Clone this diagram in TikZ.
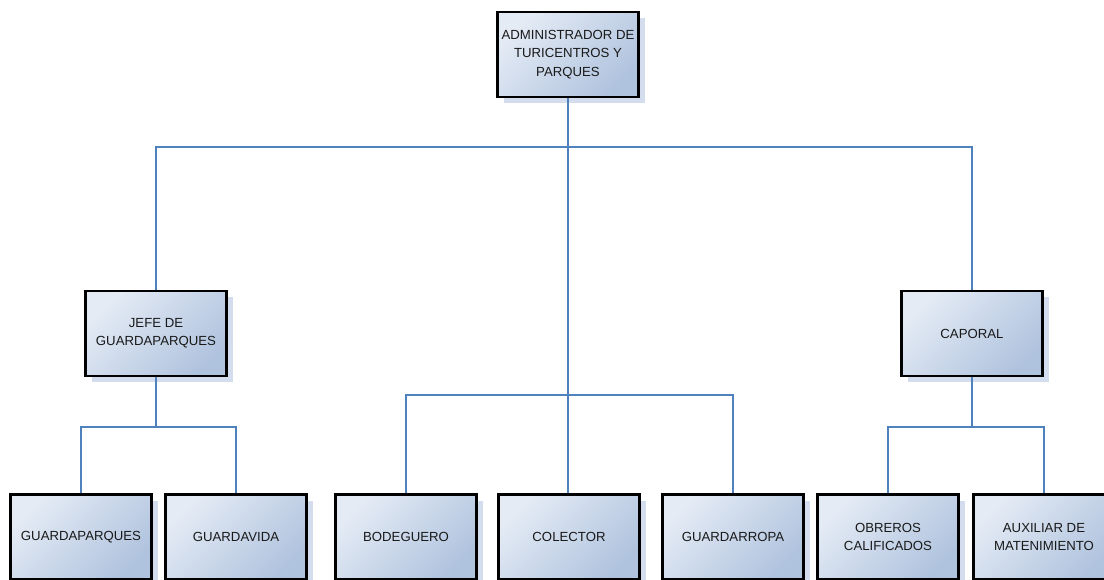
\documentclass[tikz,border=0pt]{standalone}
\usepackage{fontspec}
\setmainfont{Liberation Sans}
\usetikzlibrary{shadows}
\definecolor{boxlight}{HTML}{E4EBF5}
\definecolor{boxdark}{HTML}{B0C3DE}
\definecolor{shadowc}{HTML}{D3DDEE}
\definecolor{linec}{HTML}{4F81BD}
\tikzset{
  orgbox/.style={draw=black, line width=2.4pt, minimum width=141pt, minimum height=85pt,
    top color=boxlight, bottom color=boxdark, shading angle=45,
    align=center, inner sep=2pt, text=black!90,
    font=\fontsize{13.2pt}{18.3pt}\selectfont,
    drop shadow={shadow xshift=6pt, shadow yshift=-6pt, fill=shadowc, opacity=1}},
  conn/.style={draw=linec, line width=1.8pt},
  mainconn/.style={draw=linec, line width=2.6pt}
}
\begin{document}
\begin{tikzpicture}[x=1pt,y=-1pt]
\useasboundingbox (0,0) rectangle (1104,579);
\coordinate (bus1) at (568,147);
\coordinate (bus2) at (568,395);
\coordinate (jbus) at (156,427);
\coordinate (cbus) at (972,427);
\node[orgbox] (admin) at (568,54.5) {ADMINISTRADOR DE\\TURICENTROS Y\\PARQUES};
\node[orgbox] (jefe) at (156,333.5) {JEFE DE\\GUARDAPARQUES};
\node[orgbox] (caporal) at (972,333.5) {CAPORAL};
\node[orgbox] (gp) at (81,537) {GUARDAPARQUES};
\node[orgbox] (gv) at (236,537) {GUARDAVIDA};
\node[orgbox] (bod) at (406,537) {BODEGUERO};
\node[orgbox] (col) at (569,537) {COLECTOR};
\node[orgbox] (gr) at (733,537) {GUARDARROPA};
\node[orgbox] (obr) at (888,537) {OBREROS\\CALIFICADOS};
\node[orgbox] (aux) at (1044,537) {AUXILIAR DE\\MATENIMIENTO};
\draw[mainconn] (admin.south) -- (bus1) -- (col.north -| bus1);
\draw[conn] (bus1) -| (jefe.north);
\draw[conn] (bus1) -| (caporal.north);
\draw[conn] (bus2) -| (bod.north);
\draw[conn] (bus2) -| (gr.north);
\draw[conn] (jefe.south) -- (jbus);
\draw[conn] (jbus) -| (gp.north);
\draw[conn] (jbus) -| (gv.north);
\draw[conn] (caporal.south) -- (cbus);
\draw[conn] (cbus) -| (obr.north);
\draw[conn] (cbus) -| (aux.north);
\end{tikzpicture}
\end{document}
